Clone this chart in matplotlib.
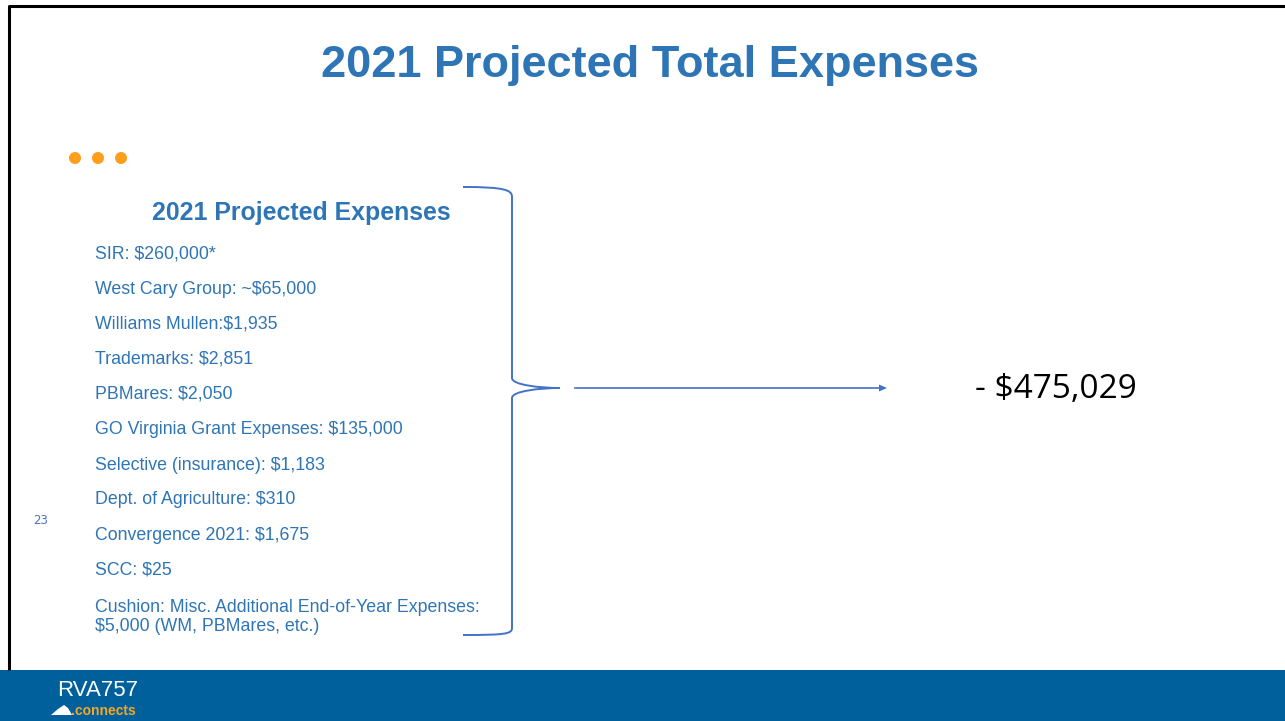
import matplotlib.pyplot as plt
from matplotlib.patches import Rectangle, Circle, PathPatch, Polygon
from matplotlib.path import Path

# slide content
TITLE = "2021 Projected Total Expenses"
SUBTITLE = "2021 Projected Expenses"
ITEMS = [
    "SIR: $260,000*",
    "West Cary Group: ~$65,000",
    "Williams Mullen:$1,935",
    "Trademarks: $2,851",
    "PBMares: $2,050",
    "GO Virginia Grant Expenses: $135,000",
    "Selective (insurance): $1,183",
    "Dept. of Agriculture: $310",
    "Convergence 2021: $1,675",
    "SCC: $25",
    "Cushion: Misc. Additional End-of-Year Expenses:\n$5,000 (WM, PBMares, etc.)",
]
ITEM_Y = [254, 289, 324, 359, 394, 430, 465, 500, 535, 570, 617]
TOTAL = "- $475,029"
PAGE = "23"

BLUE = "#2E75B6"
LINE = "#4472C4"
ORANGE = "#FF9E1B"
BAND = "#00609C"
W, H = 1285, 721

fig = plt.figure(figsize=(W / 100, H / 100), dpi=100)
ax = fig.add_axes([0, 0, 1, 1])
ax.set_xlim(0, W); ax.set_ylim(H, 0); ax.axis("off")
plt.rcParams["font.family"] = ["Liberation Sans", "DejaVu Sans"]

# frame + footer band
ax.plot([9, 9, W], [670, 5.5, 5.5], color="black", lw=2.2, solid_capstyle="butt")
ax.add_patch(Rectangle((0, 670), W, H - 670, color=BAND, lw=0))

ax.text(650, 66, TITLE, ha="center", va="center", color=BLUE,
        fontsize=32.5, fontweight="bold")

for x in (75, 98, 121):
    ax.add_patch(Circle((x, 158), 6, color=ORANGE, lw=0))

ax.text(301, 213, SUBTITLE, ha="center", va="center", color=BLUE,
        fontsize=17.9, fontweight="bold")
for txt, y in zip(ITEMS, ITEM_Y):
    ax.text(95, y, txt, ha="left", va="center", color=BLUE, fontsize=12.8,
            linespacing=1.18)
ax.text(33, 521, PAGE, ha="left", va="center", color=LINE, fontsize=8.5,
        family=["DejaVu Sans"])

# right brace
verts = [(463, 187), (505, 187), (512, 190), (512, 197),
         (512, 378),
         (512, 385), (540, 388), (560, 388),
         (540, 388), (512, 391), (512, 398),
         (512, 628),
         (512, 634), (505, 635), (463, 635)]
codes = [Path.MOVETO, Path.CURVE4, Path.CURVE4, Path.CURVE4,
         Path.LINETO,
         Path.CURVE4, Path.CURVE4, Path.CURVE4,
         Path.CURVE4, Path.CURVE4, Path.CURVE4,
         Path.LINETO,
         Path.CURVE4, Path.CURVE4, Path.CURVE4]
ax.add_patch(PathPatch(Path(verts, codes), fill=False, ec=LINE, lw=1.4))

# arrow
ax.plot([575, 880], [388, 388], color=LINE, lw=1.2)
ax.add_patch(Polygon([(879, 384.5), (887, 388), (879, 391.5)], color=LINE, lw=0))

ax.text(975, 389, TOTAL, ha="left", va="center", color="black",
        fontsize=24, family=["Open Sans", "DejaVu Sans"])

# footer logo
ax.text(57, 690, "RVA757", ha="left", va="center", color="white",
        fontsize=16)
ax.text(71, 711, ".connects", ha="left", va="center", color="#F5A623",
        fontsize=10, fontweight="bold")
ax.add_patch(Polygon([(51, 715), (58, 709), (64, 705), (68, 708), (72, 715)],
                     color="white", lw=0))

fig.savefig("out.png", dpi=100)
